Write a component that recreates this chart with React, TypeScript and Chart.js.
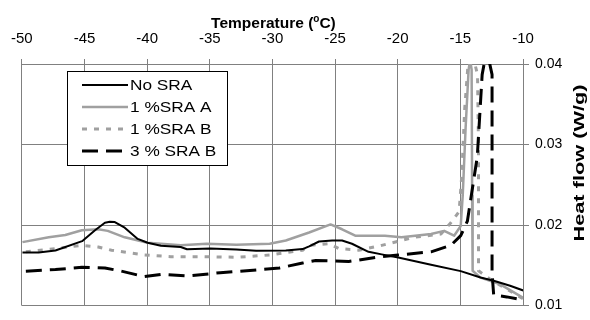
import React, { useEffect, useRef } from "react";
import { Chart, registerables } from "chart.js";

Chart.register(...registerables);

// ---- data ----
const xTickValues = [-50, -45, -40, -35, -30, -25, -20, -15, -10];
const yTickValues = [0.01, 0.02, 0.03, 0.04];
const seriesNames = ["No SRA", "1 %SRA A", "1 %SRA B", "3 % SRA B"];

const noSraT = [-49.95, -48.66, -47.32, -45.19, -44.16, -43.37, -42.98, -42.58, -41.79, -40.75, -39.96, -38.9, -37.32, -36.82, -34.95, -32.88, -31.3, -28.93, -27.59, -27.07, -26.28, -25.23, -24.44, -23.65, -22.33, -21.28, -19.96, -17.34, -14.97, -13.39, -12.34, -11.03, -9.98];
const noSraH = [0.0166, 0.0166, 0.01684, 0.018, 0.01936, 0.02028, 0.0204, 0.02038, 0.01968, 0.01828, 0.0178, 0.01744, 0.01728, 0.017, 0.01708, 0.01696, 0.0168, 0.01684, 0.01702, 0.01736, 0.01796, 0.01808, 0.01808, 0.01768, 0.01668, 0.01636, 0.01596, 0.01508, 0.01428, 0.01348, 0.01308, 0.01246, 0.01188];

const sraA1T = [-49.95, -47.85, -46.53, -45.21, -43.9, -43.14, -41.79, -39.96, -37.32, -35.25, -32.88, -30.22, -28.93, -27.07, -25.36, -24.44, -23.39, -21.02, -19.7, -17.34, -16.29, -15.5, -14.97, -14.81, -14.58, -14.34, -14.22, -14.1, -14.06, -14.02, -13.39, -11.81, -9.98];
const sraA1H = [0.01788, 0.01848, 0.01876, 0.01936, 0.01948, 0.01928, 0.01848, 0.0178, 0.01748, 0.01768, 0.01756, 0.01768, 0.01808, 0.01908, 0.02008, 0.01948, 0.01868, 0.01868, 0.01848, 0.01888, 0.01928, 0.01868, 0.01988, 0.02368, 0.03208, 0.0393, 0.0405, 0.0393, 0.02368, 0.01432, 0.01348, 0.01264, 0.01096];

const sraB1T = [-49.68, -47.32, -45.21, -43.9, -42.84, -40.22, -38.11, -35.48, -32.86, -30.22, -27.59, -27.07, -25.49, -24.7, -23.12, -21.28, -18.68, -16.55, -15.76, -15.1, -14.89, -14.65, -14.42, -14.26, -13.87, -13.63, -13.55, -13.55, -12.6, -11.42, -9.98];
const sraB1H = [0.01668, 0.01708, 0.01748, 0.01728, 0.01688, 0.01628, 0.01608, 0.01608, 0.016, 0.01628, 0.01688, 0.01748, 0.01768, 0.01708, 0.01688, 0.01748, 0.01848, 0.01888, 0.02028, 0.02168, 0.02608, 0.03448, 0.0393, 0.0405, 0.0402, 0.03868, 0.02968, 0.01432, 0.01324, 0.01216, 0.01084];

const sraB3T = [-49.68, -47.32, -45.21, -43.37, -42.06, -40.22, -38.9, -36.8, -34.17, -31.54, -29.43, -27.59, -26.54, -23.91, -21.28, -19.96, -17.34, -15.76, -14.97, -14.44, -13.65, -13.26, -13.08, -12.68, -12.47, -12.47, -12.34, -11.29, -9.98];
const sraB3H = [0.01428, 0.01448, 0.01476, 0.01468, 0.01428, 0.0136, 0.01388, 0.01368, 0.01408, 0.0144, 0.01468, 0.01528, 0.0156, 0.01548, 0.01608, 0.01628, 0.01668, 0.01748, 0.01868, 0.02048, 0.02848, 0.03868, 0.0402, 0.0402, 0.03868, 0.01408, 0.01132, 0.01108, 0.01068];

const FONT = '"Liberation Sans", Arial, sans-serif';

function pts(t: number[], h: number[]) {
  return t.map((x, i) => ({ x, y: h[i] }));
}

const overlayPlugin = {
  id: "overlay",
  afterDraw(chart: any) {
    const ctx: CanvasRenderingContext2D = chart.ctx;
    const area = chart.chartArea;
    ctx.save();
    ctx.fillStyle = "#000";
    // X axis title with superscript o
    const big = `bold 15.5px ${FONT}`;
    const small = `bold 10px ${FONT}`;
    ctx.font = big;
    const p1 = "Temperature (";
    const p3 = "C)";
    const w1 = ctx.measureText(p1).width;
    const w3 = ctx.measureText(p3).width;
    ctx.font = small;
    const w2 = ctx.measureText("o").width;
    const total = w1 + w2 + w3;
    const cx = (area.left + area.right) / 2 + 1;
    let x0 = cx - total / 2;
    const base = 27.5;
    ctx.textBaseline = "alphabetic";
    ctx.textAlign = "left";
    ctx.font = big;
    ctx.fillText(p1, x0, base);
    ctx.font = small;
    ctx.fillText("o", x0 + w1, base - 6);
    ctx.font = big;
    ctx.fillText(p3, x0 + w1 + w2, base);

    // Y axis title (rotated)
    ctx.save();
    ctx.translate(584, 163);
    ctx.rotate(-Math.PI / 2);
    ctx.scale(1.45, 1);
    ctx.font = `bold 15px ${FONT}`;
    ctx.textAlign = "center";
    ctx.textBaseline = "alphabetic";
    ctx.fillText("Heat flow (W/g)", 0, 0);
    ctx.restore();

    // Legend box
    const bx = 67.5, by = 71.5, bw = 160, bh = 94;
    ctx.fillStyle = "#fff";
    ctx.fillRect(bx, by, bw, bh);
    ctx.strokeStyle = "#000";
    ctx.lineWidth = 1;
    ctx.setLineDash([]);
    ctx.strokeRect(bx, by, bw, bh);
    const rows = [85, 107, 129, 151];
    chart.data.datasets.forEach((ds: any, i: number) => {
      const y = rows[i];
      ctx.save();
      ctx.strokeStyle = ds.borderColor;
      ctx.lineWidth = ds.borderWidth;
      ctx.setLineDash(ds.borderDash || []);
      ctx.beginPath();
      ctx.moveTo(82, y);
      ctx.lineTo(128, y);
      ctx.stroke();
      ctx.restore();
      ctx.save();
      ctx.fillStyle = "#000";
      ctx.font = `15px ${FONT}`;
      ctx.textBaseline = "middle";
      ctx.textAlign = "left";
      ctx.translate(130, y + 1);
      ctx.scale(1.15, 1);
      ctx.fillText(seriesNames[i], 0, 0);
      ctx.restore();
    });
    ctx.restore();
  },
};

export default function App() {
  const ref = useRef<HTMLCanvasElement | null>(null);
  useEffect(() => {
    document.body.style.margin = "0";
    const canvas = ref.current!;
    const gridColor = "#808080";
    const chart = new Chart(canvas, {
      type: "line",
      data: {
        datasets: [
          {
            label: seriesNames[0],
            data: pts(noSraT, noSraH),
            borderColor: "#000000",
            borderWidth: 2,
            order: 1,
          },
          {
            label: seriesNames[1],
            data: pts(sraA1T, sraA1H),
            borderColor: "#a0a0a0",
            borderWidth: 2.5,
            order: 3,
          },
          {
            label: seriesNames[2],
            data: pts(sraB1T, sraB1H),
            borderColor: "#a0a0a0",
            borderWidth: 3,
            borderDash: [5, 7],
            order: 2,
          },
          {
            label: seriesNames[3],
            data: pts(sraB3T, sraB3H),
            borderColor: "#000000",
            borderWidth: 3,
            borderDash: [16, 8],
            order: 0,
          },
        ] as any,
      },
      options: {
        animation: false,
        responsive: false,
        devicePixelRatio: 1,
        parsing: false as any,
        elements: {
          point: { radius: 0 },
          line: { tension: 0, fill: false, borderJoinStyle: "round", borderCapStyle: "butt" },
        },
        layout: { padding: { left: 16, right: 0, top: 0, bottom: 6 } },
        plugins: {
          legend: { display: false },
          tooltip: { enabled: false },
        },
        scales: {
          x: {
            type: "linear",
            position: "top",
            min: -50,
            max: -10,
            afterBuildTicks: (s: any) => {
              s.ticks = xTickValues.map((v) => ({ value: v }));
            },
            afterFit: (s: any) => {
              s.height = 64;
            },
            ticks: {
              autoSkip: false,
              maxRotation: 0,
              padding: 11,
              color: "#000",
              font: { family: FONT, size: 15 },
              callback: (v: any) => String(v),
            },
            grid: { color: gridColor, lineWidth: 1, tickLength: 5, drawTicks: true },
            border: { display: true, color: gridColor },
          },
          y: {
            type: "linear",
            position: "right",
            min: 0.01,
            max: 0.04,
            afterBuildTicks: (s: any) => {
              s.ticks = yTickValues.map((v) => ({ value: v }));
            },
            afterFit: (s: any) => {
              s.width = 67;
            },
            ticks: {
              padding: 6,
              color: "#000",
              font: { family: FONT, size: 14 },
              callback: (v: any) => Number(v).toFixed(2),
            },
            grid: { color: gridColor, lineWidth: 1, tickLength: 6, drawTicks: true },
            border: { display: true, color: gridColor },
          },
        },
      },
      plugins: [overlayPlugin],
    });
    return () => chart.destroy();
  }, []);
  return <canvas ref={ref} width={590} height={320} style={{ display: "block" }} />;
}
